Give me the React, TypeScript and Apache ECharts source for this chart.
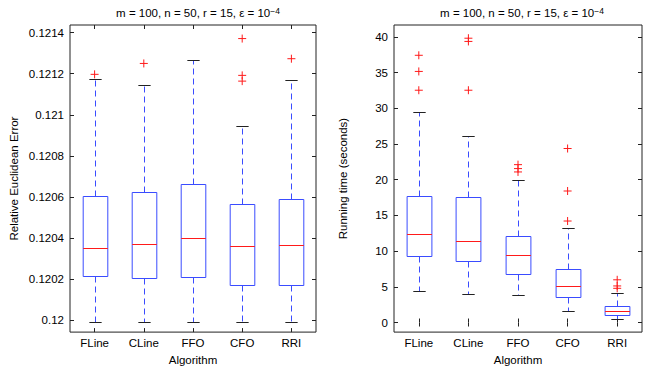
import React, { useEffect, useRef } from "react";
import * as echarts from "echarts";

const algorithms = ["FLine", "CLine", "FFO", "CFO", "RRI"];

// Relative Euclidean Error boxplot stats
const errLower = [0.11999, 0.11999, 0.11999, 0.11999, 0.11999];
const errQ1 = [0.120215, 0.120208, 0.120211, 0.120171, 0.120174];
const errMedian = [0.120351, 0.120371, 0.120403, 0.120364, 0.120369];
const errQ3 = [0.120603, 0.120623, 0.120662, 0.120567, 0.12059];
const errUpper = [0.121172, 0.121143, 0.121268, 0.120945, 0.121169];
const errOutliers: [number, number][] = [
  [0, 0.121197],
  [1, 0.12125],
  [3, 0.121371],
  [3, 0.121192],
  [3, 0.121164],
  [4, 0.121273],
];
const errTicks = [0.12, 0.1202, 0.1204, 0.1206, 0.1208, 0.121, 0.1212, 0.1214];

// Running time boxplot stats
const timeLower = [4.38, 4.06, 3.87, 1.66, 0.55];
const timeQ1 = [9.36, 8.67, 6.73, 3.51, 1.11];
const timeMedian = [12.46, 11.44, 9.5, 5.12, 1.66];
const timeQ3 = [17.67, 17.58, 12.18, 7.47, 2.35];
const timeUpper = [29.52, 26.16, 19.93, 13.24, 4.12];
const timeOutliers: [number, number][] = [
  [0, 37.41],
  [0, 35.15],
  [0, 32.52],
  [1, 39.8],
  [1, 39.35],
  [1, 32.52],
  [2, 22.1],
  [2, 21.55],
  [2, 21.08],
  [3, 24.36],
  [3, 18.41],
  [3, 14.21],
  [4, 5.98],
  [4, 5.12],
  [4, 4.79],
];
const timeTicks = [0, 5, 10, 15, 20, 25, 30, 35, 40];

const titleText = "m = 100, n = 50, r = 15, ε = 10{sup|−4}";
const FONT = "'Liberation Sans', Arial, Helvetica, sans-serif";
const FS = 11.5;
const BLUE = "#3a4cff";
const RED = "#ff1a1a";
const CAP = "#222222";

function boxData(lo: number[], q1: number[], md: number[], q3: number[], up: number[]) {
  return algorithms.map((_, i) => [i, lo[i], q1[i], md[i], q3[i], up[i]]);
}

const renderBox = (params: any, api: any) => {
  const i = api.value(0);
  const pLo = api.coord([i, api.value(1)]);
  const pQ1 = api.coord([i, api.value(2)]);
  const pMd = api.coord([i, api.value(3)]);
  const pQ3 = api.coord([i, api.value(4)]);
  const pUp = api.coord([i, api.value(5)]);
  const band = api.size([1, 0])[0];
  const cx = Math.round(pLo[0]) + 0.5;
  const bh = band * 0.25;
  const ch = band * 0.125;
  const r = (v: number) => Math.round(v) + 0.5;
  return {
    type: "group",
    children: [
      {
        type: "line",
        shape: { x1: cx, y1: r(pQ3[1]), x2: cx, y2: r(pUp[1]) },
        style: { stroke: BLUE, lineWidth: 1, lineDash: [6, 4] },
      },
      {
        type: "line",
        shape: { x1: cx, y1: r(pQ1[1]), x2: cx, y2: r(pLo[1]) },
        style: { stroke: BLUE, lineWidth: 1, lineDash: [6, 4] },
      },
      {
        type: "line",
        shape: { x1: cx - ch, y1: r(pUp[1]), x2: cx + ch, y2: r(pUp[1]) },
        style: { stroke: CAP, lineWidth: 1 },
      },
      {
        type: "line",
        shape: { x1: cx - ch, y1: r(pLo[1]), x2: cx + ch, y2: r(pLo[1]) },
        style: { stroke: CAP, lineWidth: 1 },
      },
      {
        type: "rect",
        shape: { x: cx - bh, y: r(pQ3[1]), width: 2 * bh, height: r(pQ1[1]) - r(pQ3[1]) },
        style: { fill: "none", stroke: BLUE, lineWidth: 1 },
      },
      {
        type: "line",
        shape: { x1: cx - bh, y1: r(pMd[1]), x2: cx + bh, y2: r(pMd[1]) },
        style: { stroke: RED, lineWidth: 1 },
      },
    ],
  };
};

const fmtErr = (v: number) => String(parseFloat(v.toFixed(4)));

const outlierSeries = (axis: number, data: [number, number][]) => ({
  type: "scatter" as const,
  xAxisIndex: axis,
  yAxisIndex: axis,
  data,
  silent: true,
  z: 5,
  symbol: "path://M0,4H8M4,0V8",
  symbolSize: 8,
  itemStyle: { color: "rgba(0,0,0,0)", borderColor: RED, borderWidth: 1, opacity: 1 },
  emphasis: { disabled: true },
});

export default function App() {
  const ref = useRef<HTMLDivElement>(null);
  useEffect(() => {
    if (!ref.current) return;
    const chart = echarts.init(ref.current, null, { renderer: "svg" });
    const tickStyle = { show: true, inside: true, length: 4, lineStyle: { color: "#222" } };
    const labelStyle = { color: "#000", fontSize: FS, fontFamily: FONT };
    const titleStyle = {
      color: "#000",
      fontSize: FS,
      fontWeight: "normal" as const,
      fontFamily: FONT,
      rich: {
        sup: { fontSize: 8.5, fontFamily: FONT, color: "#000", verticalAlign: "top" as const, padding: [0, 0, 5, 0] },
      },
    };
    const mkX = (gridIndex: number, pos: "bottom" | "top") => ({
      type: "category" as const,
      gridIndex,
      position: pos,
      data: algorithms,
      boundaryGap: true,
      axisLine: { show: false },
      axisTick: { ...tickStyle, alignWithLabel: true },
      axisLabel: pos === "bottom" ? { ...labelStyle, margin: 5 } : { show: false },
      splitLine: { show: false },
      name: pos === "bottom" ? "Algorithm" : "",
      nameLocation: "middle" as const,
      nameGap: 19,
      nameTextStyle: labelStyle,
    });
    const mkY = (
      gridIndex: number,
      pos: "left" | "right",
      min: number,
      max: number,
      ticks: number[],
      name: string,
      nameGap: number,
      fmt?: (v: number) => string
    ) => ({
      type: "value" as const,
      gridIndex,
      position: pos,
      min,
      max,
      axisLine: { show: false },
      axisTick: { ...tickStyle, customValues: ticks },
      axisLabel:
        pos === "left"
          ? { ...labelStyle, margin: 6, customValues: ticks, formatter: fmt ? (v: number) => fmt(v) : undefined }
          : { show: false },
      splitLine: { show: false },
      name: pos === "left" ? name : "",
      nameLocation: "middle" as const,
      nameRotate: 90,
      nameGap,
      nameTextStyle: labelStyle,
    });
    chart.setOption({
      animation: false,
      backgroundColor: "#fff",
      title: [
        { text: titleText, left: 193, top: 1, textAlign: "center", textStyle: titleStyle },
        { text: titleText, left: 517, top: 1, textAlign: "center", textStyle: titleStyle },
      ],
      grid: [
        { left: 70, top: 25, width: 246, height: 311, show: true, borderColor: "#222", borderWidth: 1, backgroundColor: "transparent" },
        { left: 394, top: 25, width: 248, height: 311, show: true, borderColor: "#222", borderWidth: 1, backgroundColor: "transparent" },
      ],
      xAxis: [mkX(0, "bottom"), mkX(0, "top"), mkX(1, "bottom"), mkX(1, "top")],
      yAxis: [
        mkY(0, "left", 0.119943, 0.121437, errTicks, "Relative Euclidean Error", 50, fmtErr),
        mkY(0, "right", 0.119943, 0.121437, errTicks, "", 0),
        mkY(1, "left", -1.34, 41.65, timeTicks, "Running time (seconds)", 45),
        mkY(1, "right", -1.34, 41.65, timeTicks, "", 0),
      ],
      series: [
        {
          type: "custom",
          xAxisIndex: 0,
          yAxisIndex: 0,
          renderItem: renderBox,
          encode: { x: 0, y: [1, 2, 3, 4, 5] },
          data: boxData(errLower, errQ1, errMedian, errQ3, errUpper),
          silent: true,
        },
        outlierSeries(0, errOutliers),
        {
          type: "custom",
          xAxisIndex: 2,
          yAxisIndex: 2,
          renderItem: renderBox,
          encode: { x: 0, y: [1, 2, 3, 4, 5] },
          data: boxData(timeLower, timeQ1, timeMedian, timeQ3, timeUpper),
          silent: true,
        },
        outlierSeries(2, timeOutliers),
      ],
    });
    return () => chart.dispose();
  }, []);
  return (
    <div
      ref={ref}
      style={{ position: "fixed", left: 0, top: 0, width: 654, height: 371, background: "#fff" }}
    />
  );
}
